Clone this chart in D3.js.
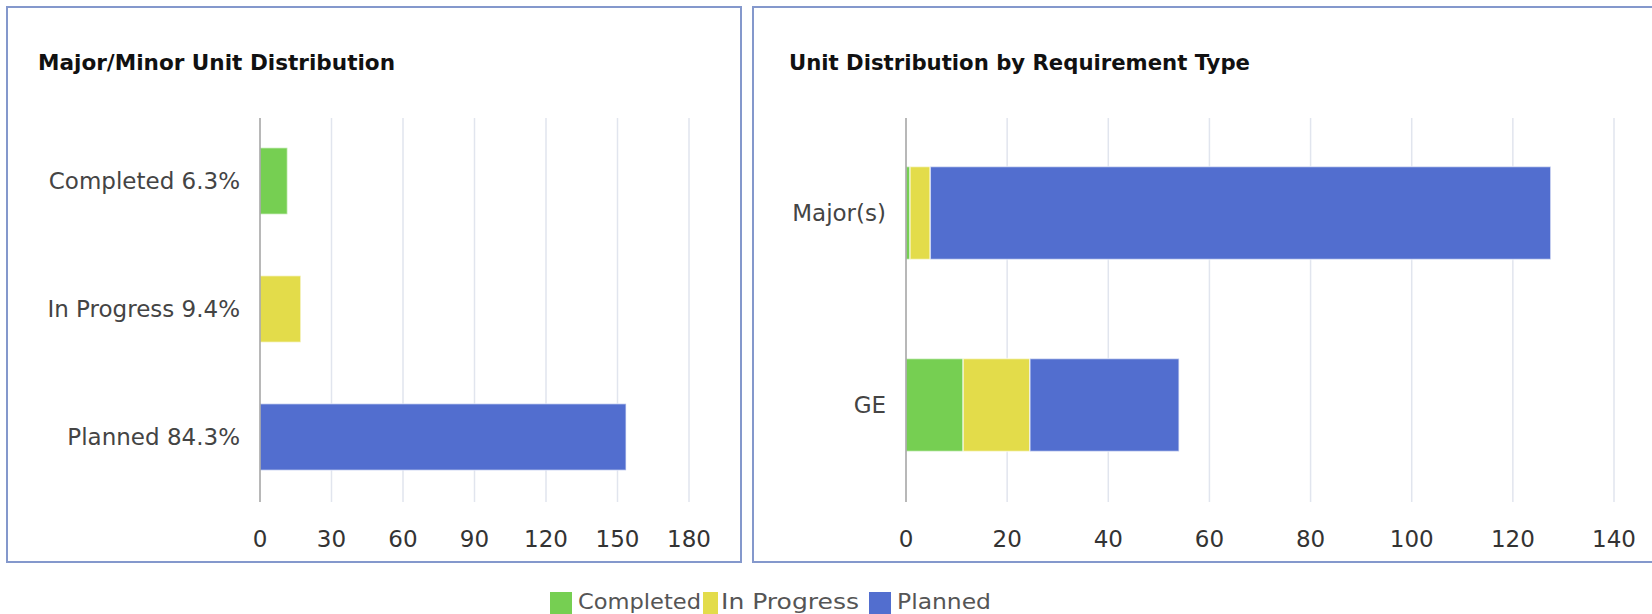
<!DOCTYPE html>
<html>
<head>
<meta charset="utf-8">
<script src="https://cdn.jsdelivr.net/npm/d3@7"></script>
<style>
  body { margin: 0; background: #fff; overflow: hidden; }
  text { font-family: "DejaVu Sans", Verdana, sans-serif; }
</style>
</head>
<body>
<div id="chart"></div>
<script>
// data
const statuses = ["Completed", "In Progress", "Planned"];
const statusPct = ["6.3%", "9.4%", "84.3%"];
const statusUnits = [11.5, 17.1, 153.6];

const reqTypes = ["Major(s)", "GE"];
const completedUnits = [0.8, 11.3];
const inProgressUnits = [4.0, 13.2];
const plannedUnits = [122.7, 29.5];

const leftTicks = [0, 30, 60, 90, 120, 150, 180];
const rightTicks = [0, 20, 40, 60, 80, 100, 120, 140];

const colours = ["#76cf52", "#e3dc4a", "#526ecf"];

const width = 1652, height = 614;
const plotTop = 117, plotBottom = 501;

const svg = d3.select("#chart")
  .append("svg")
    .attr("width", width)
    .attr("height", height);

// panels
svg.append("rect").attr("x", 7).attr("y", 7).attr("width", 734).attr("height", 555)
  .style("fill", "#fff").style("stroke", "#8498cc").style("stroke-width", 2);
svg.append("rect").attr("x", 753).attr("y", 7).attr("width", 940).attr("height", 555)
  .style("fill", "#fff").style("stroke", "#8498cc").style("stroke-width", 2);

// titles
svg.append("text").attr("x", 38).attr("y", 70).text("Major/Minor Unit Distribution")
  .attr("textLength", 357).attr("lengthAdjust", "spacingAndGlyphs")
  .style("font-size", "21.5px").style("font-weight", "bold").style("fill", "#111");
svg.append("text").attr("x", 789).attr("y", 70).text("Unit Distribution by Requirement Type")
  .attr("textLength", 461).attr("lengthAdjust", "spacingAndGlyphs")
  .style("font-size", "21.5px").style("font-weight", "bold").style("fill", "#111");

function drawFrame(g, x, ticks) {
  g.append("g")
    .selectAll("line")
    .data(ticks.slice(1))
    .enter()
    .append("line")
      .attr("x1", d => x(d)).attr("x2", d => x(d))
      .attr("y1", plotTop + 1).attr("y2", plotBottom + 1)
      .style("stroke", "#e1e5ee").style("stroke-width", 1.5);

  g.append("g")
    .selectAll("text")
    .data(ticks)
    .enter()
    .append("text")
      .attr("x", d => x(d))
      .attr("y", 547)
      .attr("text-anchor", "middle")
      .text(d => d)
      .style("font-size", "23px")
      .style("fill", "#333");
}

function drawAxisLine(g, x) {
  g.append("line")
    .attr("x1", x(0)).attr("x2", x(0))
    .attr("y1", plotTop + 1).attr("y2", plotBottom + 1)
    .style("stroke", "#a0a0a0").style("stroke-width", 1.5);
}

// left chart
const xl = d3.scaleLinear().domain([0, 180]).range([260, 689]);
const yl = d3.scaleBand().domain(statuses).range([plotTop, plotBottom])
  .paddingInner(0.48).paddingOuter(0.24);

const left = svg.append("g");
drawFrame(left, xl, leftTicks);

left.append("g")
  .selectAll("rect")
  .data(statuses)
  .enter()
  .append("rect")
    .attr("x", xl(0))
    .attr("y", d => yl(d))
    .attr("width", (d, i) => xl(statusUnits[i]) - xl(0))
    .attr("height", yl.bandwidth())
    .style("fill", (d, i) => colours[i])
    .style("stroke", "#fff").style("stroke-opacity", 0.5).style("stroke-width", 1.5);

drawAxisLine(left, xl);

left.append("g")
  .selectAll("text")
  .data(statuses)
  .enter()
  .append("text")
    .attr("x", 240)
    .attr("y", d => yl(d) + yl.bandwidth() / 2)
    .attr("text-anchor", "end")
    .attr("dominant-baseline", "central")
    .text((d, i) => d + " " + statusPct[i])
    .style("font-size", "23px")
    .style("fill", "#444");

// right chart
const xr = d3.scaleLinear().domain([0, 140]).range([906, 1614]);
const yr = d3.scaleBand().domain(reqTypes).range([plotTop, plotBottom])
  .paddingInner(0.516).paddingOuter(0.258);

const rows = reqTypes.map((r, i) => ({
  type: r,
  "Completed": completedUnits[i],
  "In Progress": inProgressUnits[i],
  "Planned": plannedUnits[i]
}));
const stacked = d3.stack().keys(statuses)(rows);

const right = svg.append("g");
drawFrame(right, xr, rightTicks);

right.append("g")
  .selectAll("g")
  .data(stacked)
  .enter()
  .append("g")
    .style("fill", (d, i) => colours[i])
  .selectAll("rect")
  .data(d => d)
  .enter()
  .append("rect")
    .attr("x", d => xr(d[0]))
    .attr("y", d => yr(d.data.type))
    .attr("width", d => xr(d[1]) - xr(d[0]))
    .attr("height", yr.bandwidth())
    .style("stroke", "#fff").style("stroke-opacity", 0.6).style("stroke-width", 1.5);

drawAxisLine(right, xr);

right.append("g")
  .selectAll("text")
  .data(reqTypes)
  .enter()
  .append("text")
    .attr("x", 886)
    .attr("y", d => yr(d) + yr.bandwidth() / 2)
    .attr("text-anchor", "end")
    .attr("dominant-baseline", "central")
    .text(d => d)
    .style("font-size", "23px")
    .style("fill", "#444");

// legend
const legendX = [550, 703, 869];
const legendW = [22, 15, 22];
const legendTextX = [578, 721, 897];
const legendTextW = [123, 138, 94];
const legend = svg.append("g");
statuses.forEach((s, i) => {
  legend.append("rect").attr("x", legendX[i]).attr("y", 592)
    .attr("width", legendW[i]).attr("height", 22).style("fill", colours[i]);
  legend.append("text").attr("x", legendTextX[i]).attr("y", 609).text(s)
    .attr("textLength", legendTextW[i]).attr("lengthAdjust", "spacingAndGlyphs")
    .style("font-size", "22px").style("fill", "#555");
});
</script>
</body>
</html>
